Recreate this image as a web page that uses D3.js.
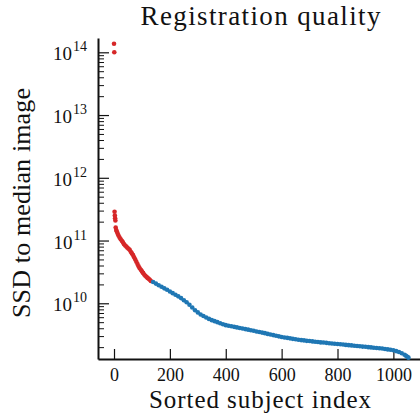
<!DOCTYPE html>
<html>
<head>
<meta charset="utf-8">
<script src="https://cdn.jsdelivr.net/npm/d3@7"></script>
<style>
  html, body { margin: 0; padding: 0; background: #fff; }
  svg text { font-family: "Liberation Serif", "Times New Roman", serif; fill: #111; }
</style>
</head>
<body>
<svg id="chart" width="420" height="420"></svg>
<script>
// Subjects flagged as poorly registered (above the SSD cut-off)
const flaggedIndex = [0, 1, 2, 3, 4, 5, 6, 8, 10, 13, 16, 20, 24, 28, 32, 36, 40, 44, 48, 52, 56,
  60, 64, 68, 72, 76, 80, 84, 88, 92, 96, 100, 104, 108, 112, 116, 120, 124, 128, 132];
const flaggedSSD = [1.37e14, 1.0e14, 2.88e11, 2.51e11, 2.26e11, 2.09e11, 1.61e11, 1.47e11, 1.39e11,
  1.29e11, 1.20e11, 1.12e11, 1.05e11, 9.95e10, 9.38e10, 8.74e10, 8.34e10, 8.01e10, 7.69e10, 7.39e10,
  7.10e10, 6.62e10, 6.24e10, 5.89e10, 5.41e10, 4.99e10, 4.60e10, 4.22e10, 3.89e10, 3.61e10, 3.42e10,
  3.22e10, 3.05e10, 2.87e10, 2.74e10, 2.64e10, 2.54e10, 2.46e10, 2.37e10, 2.27e10];

// Remaining subjects
const keptIndex = [140, 150, 160, 170, 180, 190, 200, 210, 220, 230, 240, 250, 260, 270, 280, 290,
  300, 310, 320, 330, 340, 350, 360, 370, 380, 390, 400, 410, 420, 430, 440, 450, 460, 470, 480, 490,
  500, 510, 520, 530, 540, 550, 560, 570, 580, 590, 600, 610, 620, 630, 640, 650, 660, 670, 680, 690,
  700, 710, 720, 730, 740, 750, 760, 770, 780, 790, 800, 810, 820, 830, 840, 850, 860, 870, 880, 890,
  900, 910, 920, 930, 940, 950, 960, 970, 980, 990, 1000, 1010, 1020, 1030, 1040, 1045, 1050, 1054];
const keptSSD = [2.18e10, 2.06e10, 1.94e10, 1.83e10, 1.73e10, 1.64e10, 1.54e10, 1.45e10, 1.37e10,
  1.29e10, 1.21e10, 1.12e10, 1.04e10, 9.50e9, 8.57e9, 7.76e9, 7.16e9, 6.63e9, 6.28e9, 5.94e9, 5.64e9,
  5.38e9, 5.19e9, 5.00e9, 4.80e9, 4.63e9, 4.48e9, 4.38e9, 4.30e9, 4.21e9, 4.13e9, 4.04e9, 3.96e9,
  3.88e9, 3.80e9, 3.71e9, 3.65e9, 3.56e9, 3.49e9, 3.41e9, 3.34e9, 3.25e9, 3.18e9, 3.11e9, 3.03e9,
  2.97e9, 2.90e9, 2.85e9, 2.81e9, 2.76e9, 2.71e9, 2.67e9, 2.63e9, 2.59e9, 2.56e9, 2.52e9, 2.50e9,
  2.47e9, 2.44e9, 2.41e9, 2.38e9, 2.37e9, 2.34e9, 2.31e9, 2.29e9, 2.26e9, 2.24e9, 2.22e9, 2.20e9,
  2.17e9, 2.15e9, 2.13e9, 2.11e9, 2.09e9, 2.07e9, 2.04e9, 2.03e9, 2.00e9, 1.98e9, 1.96e9, 1.94e9,
  1.92e9, 1.90e9, 1.87e9, 1.84e9, 1.82e9, 1.78e9, 1.73e9, 1.67e9, 1.60e9, 1.51e9, 1.46e9, 1.40e9, 1.36e9];

const xTickValues = [0, 200, 400, 600, 800, 1000];
const yDecades = [10, 11, 12, 13, 14];

const titleText = "Registration quality";
const xLabelText = "Sorted subject index";
const yLabelText = "SSD to median image";

const colorFlagged = "#d62728";
const colorKept = "#1f77b4";

const svg = d3.select("#chart");

const x = d3.scaleLinear().domain([-57.3, 1095.3]).range([98, 420]);
const y = d3.scaleLog().domain([Math.pow(10, 9.112), Math.pow(10, 14.228)]).range([359, 38]);

// Minor log ticks (2..9 per decade) inside the plot
const minorTicks = [];
for (let e = 9; e <= 14; e++) {
  for (let m = 2; m <= 9; m++) {
    const v = m * Math.pow(10, e);
    if (v >= y.domain()[0] && v <= y.domain()[1]) minorTicks.push(v);
  }
}
const majorY = yDecades.map(e => Math.pow(10, e));

const gMinor = svg.append("g").attr("transform", "translate(98,0)")
  .call(d3.axisLeft(y).tickValues(minorTicks).tickSize(-6).tickSizeOuter(0).tickFormat(""));
gMinor.select(".domain").remove();
gMinor.selectAll(".tick line").attr("stroke", "#111").attr("stroke-width", 1);

const gY = svg.append("g").attr("transform", "translate(98,0)")
  .call(d3.axisLeft(y).tickValues(majorY).tickSize(-11).tickSizeOuter(0).tickFormat(""));
gY.selectAll(".tick line").attr("stroke", "#111").attr("stroke-width", 1.2);
gY.select(".domain").attr("stroke", "#111").attr("stroke-width", 2);

const gX = svg.append("g").attr("transform", "translate(0,359)")
  .call(d3.axisBottom(x).tickValues(xTickValues).tickSize(-10).tickSizeOuter(0)
    .tickFormat(d3.format("d")));
gX.select(".domain").attr("stroke", "#111").attr("stroke-width", 2);
gX.selectAll(".tick line").attr("stroke", "#111").attr("stroke-width", 1.2);
gX.selectAll(".tick text")
  .attr("y", 22).attr("dy", 0)
  .style("font-size", "18px").attr("fill", "#111");

// Power-of-ten labels on the y axis
const yLab = svg.append("g");
yDecades.forEach(e => {
  const t = yLab.append("text")
    .attr("x", 87).attr("y", y(Math.pow(10, e)) + 8)
    .attr("text-anchor", "end")
    .style("font-size", "19px");
  t.append("tspan").text("10");
  t.append("tspan").attr("dx", 1).attr("dy", -9).style("font-size", "14px").text(String(e));
});

// Scatter points
const r = 2.3;
svg.append("g").selectAll("circle")
  .data(flaggedIndex.map((d, i) => [d, flaggedSSD[i]]))
  .join("circle")
  .attr("cx", d => x(d[0])).attr("cy", d => y(d[1])).attr("r", r)
  .attr("fill", colorFlagged);
svg.append("g").selectAll("circle")
  .data(keptIndex.map((d, i) => [d, keptSSD[i]]))
  .join("circle")
  .attr("cx", d => x(d[0])).attr("cy", d => y(d[1])).attr("r", r)
  .attr("fill", colorKept);

// Title and axis labels
svg.append("text").attr("x", 260.5).attr("y", 25).attr("text-anchor", "middle")
  .style("font-size", "27px").attr("textLength", 240).attr("lengthAdjust", "spacing")
  .text(titleText);
svg.append("text").attr("x", 260).attr("y", 408).attr("text-anchor", "middle")
  .style("font-size", "25px").attr("textLength", 222).attr("lengthAdjust", "spacing")
  .text(xLabelText);
svg.append("text").attr("transform", "translate(30,203) rotate(-90)").attr("text-anchor", "middle")
  .style("font-size", "26px").attr("textLength", 230).attr("lengthAdjust", "spacing")
  .text(yLabelText);
</script>
</body>
</html>
